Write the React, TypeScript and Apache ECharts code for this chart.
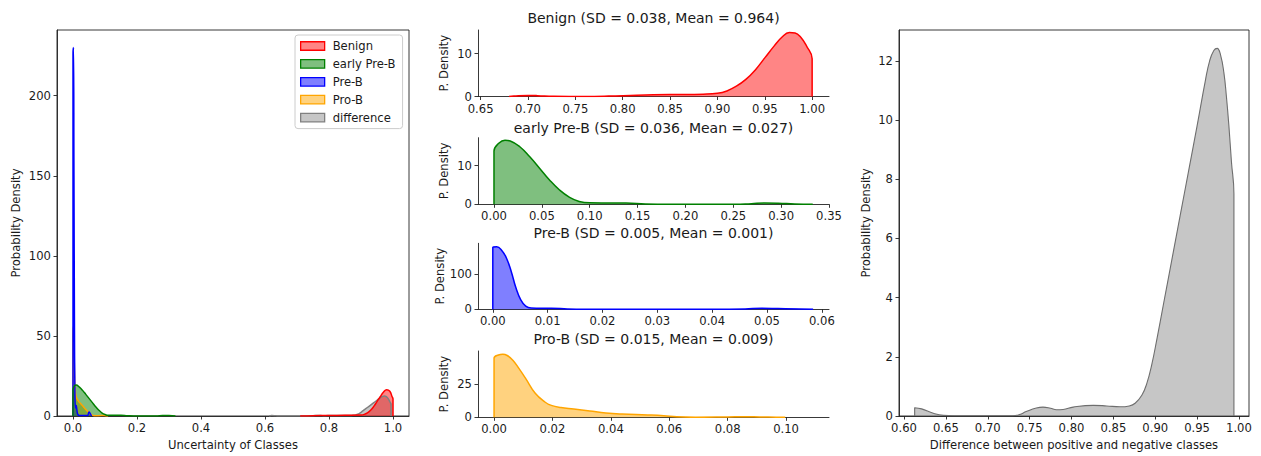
import React, { useEffect, useRef } from "react";
import * as echarts from "echarts";

const FONT = '"DejaVu Sans", "Liberation Sans", sans-serif';
const INK = "#1a1a1a";

// ---------- data (x, density) ----------
// Left panel overlay
const leftBenign: number[][] = [
  [0.71, 0], [0.71, 0.3], [0.75, 0.2], [0.8, 0.3], [0.85, 0.45], [0.9, 0.6], [0.91, 1.0],
  [0.92, 2.0], [0.93, 3.6], [0.94, 6.0], [0.95, 9.0], [0.96, 12.0], [0.97, 14.8],
  [0.98, 16.4], [0.99, 15.5], [0.997, 12.2], [1.0, 10.6], [1.0, 0],
];
const leftEarlyPreB: number[][] = [
  [0, 0], [0, 16], [0.005, 19], [0.01, 19.4], [0.02, 18], [0.03, 16], [0.04, 13.5],
  [0.05, 11], [0.06, 8.5], [0.07, 6], [0.08, 3.8], [0.09, 2], [0.1, 0.9], [0.11, 0.4],
  [0.13, 0.4], [0.15, 0.5], [0.17, 0.2], [0.2, 0], [0.26, 0], [0.28, 0.3], [0.3, 0.3], [0.32, 0],
];
const leftPreB: number[][] = [
  [0, 0], [0, 226], [0.0015, 230], [0.003, 150], [0.0045, 60], [0.006, 15], [0.008, 5],
  [0.01, 6.5], [0.012, 4], [0.015, 1], [0.02, 0.3], [0.045, 0.3], [0.05, 2.5], [0.054, 1.5], [0.058, 0],
];
const leftProB: number[][] = [
  [0, 0], [0, 50], [0.0015, 56], [0.003, 45], [0.005, 25], [0.008, 14], [0.012, 11],
  [0.018, 9], [0.025, 7.5], [0.032, 6], [0.04, 4], [0.048, 2.5], [0.055, 1.2], [0.062, 0.4],
  [0.07, 0.1], [0.09, 0.3], [0.1, 0.2], [0.11, 0],
];

// Middle panels
const benignDensity: number[][] = [
  [0.68, 0], [0.685, 0.1], [0.7, 0.25], [0.71, 0.2], [0.727, 0.03], [0.76, 0.02], [0.785, 0.1],
  [0.815, 0.3], [0.85, 0.45], [0.885, 0.55], [0.9, 0.75], [0.91, 1.3], [0.92, 2.4],
  [0.93, 4.0], [0.94, 6.2], [0.95, 9.0], [0.96, 11.8], [0.968, 13.8], [0.976, 14.9],
  [0.982, 14.8], [0.988, 13.8], [0.994, 11.8], [1.0, 8.8], [1.0, 0],
];
const earlyPreBDensity: number[][] = [
  [0, 0], [0, 13.8], [0.005, 15.8], [0.0115, 16.6], [0.017, 16.4], [0.027, 14.9],
  [0.0374, 12.3], [0.0478, 9.3], [0.058, 6.3], [0.0685, 3.7], [0.079, 1.8], [0.089, 0.75],
  [0.1, 0.38], [0.117, 0.34], [0.138, 0.32], [0.158, 0.1], [0.183, 0.01], [0.252, 0.01],
  [0.269, 0.17], [0.283, 0.32], [0.297, 0.26], [0.314, 0.09], [0.333, 0],
];
const preBDensity: number[][] = [
  [0, 0], [0, 177], [0.0007, 178.5], [0.0016, 169], [0.0025, 146], [0.0034, 106],
  [0.0042, 62], [0.0051, 27], [0.006, 9], [0.007, 3.5], [0.009, 3], [0.0107, 3], [0.0136, 1],
  [0.0166, 0.2], [0.04, 0.2], [0.046, 1], [0.049, 2.8], [0.052, 2], [0.0584, 0],
];
const proBDensity: number[][] = [
  [0, 0], [0, 44.7], [0.0015, 47.2], [0.003, 47.8], [0.0045, 46.8], [0.0065, 43],
  [0.0085, 37], [0.0108, 29.5], [0.0141, 18.2], [0.0174, 11.6], [0.0196, 9.0], [0.0229, 7.4],
  [0.0273, 6.3], [0.0328, 4.8], [0.0383, 3.3], [0.0438, 2.5], [0.0526, 1.8],
  [0.0581, 1.2], [0.0626, 0.35], [0.069, 0.02], [0.08, 0.25], [0.0857, 0.45], [0.091, 0.25],
  [0.0967, 0.05], [0.0997, 0],
];

// Right panel (also overlaid on the left panel)
const differenceDensity: number[][] = [
  [0.6127, 0], [0.6127, 0.28], [0.621, 0.24], [0.635, 0.09], [0.647, 0.02], [0.66, 0.01],
  [0.73, 0.01], [0.738, 0.05], [0.746, 0.15], [0.758, 0.27], [0.766, 0.3], [0.775, 0.26],
  [0.782, 0.21], [0.79, 0.22], [0.802, 0.3], [0.826, 0.36], [0.842, 0.34], [0.858, 0.31],
  [0.869, 0.34], [0.876, 0.43], [0.884, 0.7], [0.89, 1.1], [0.896, 1.75], [0.902, 2.6],
  [0.91, 3.8], [0.92, 5.3], [0.93, 6.8], [0.94, 8.3], [0.95, 9.8], [0.96, 11.35],
  [0.965, 12.0], [0.97, 12.35], [0.974, 12.42], [0.978, 12.2], [0.982, 11.6],
  [0.985, 10.8], [0.988, 9.8], [0.991, 8.6], [0.994, 7.5], [0.994, 0],
];

const legendNames = ["Benign", "early Pre-B", "Pre-B", "Pro-B", "difference"];
const panelTitles = [
  "Benign (SD = 0.038, Mean = 0.964)",
  "early Pre-B (SD = 0.036, Mean = 0.027)",
  "Pre-B (SD = 0.005, Mean = 0.001)",
  "Pro-B (SD = 0.015, Mean = 0.009)",
];

// tick labels
const leftXTicks = [0, 0.2, 0.4, 0.6, 0.8, 1.0];
const leftYTicks = [0, 50, 100, 150, 200];
const benignXTicks = [0.65, 0.7, 0.75, 0.8, 0.85, 0.9, 0.95, 1.0];
const benignYTicks = [0, 10];
const earlyXTicks = [0, 0.05, 0.1, 0.15, 0.2, 0.25, 0.3, 0.35];
const earlyYTicks = [0, 10];
const preBXTicks = [0, 0.01, 0.02, 0.03, 0.04, 0.05, 0.06];
const preBYTicks = [0, 100];
const proBXTicks = [0, 0.02, 0.04, 0.06, 0.08, 0.1];
const proBYTicks = [0, 25];
const rightXTicks = [0.6, 0.65, 0.7, 0.75, 0.8, 0.85, 0.9, 0.95, 1.0];
const rightYTicks = [0, 2, 4, 6, 8, 10, 12];

const COLORS = {
  red: { line: "#ff0000", fill: "rgba(255,0,0,0.48)" },
  green: { line: "#008000", fill: "rgba(0,128,0,0.5)" },
  blue: { line: "#0000ff", fill: "rgba(0,0,255,0.5)" },
  orange: { line: "#ffa500", fill: "rgba(255,165,0,0.5)" },
  gray: { line: "#808080", fill: "rgba(128,128,128,0.45)" },
};

export default function App() {
  const ref = useRef<HTMLDivElement>(null);

  useEffect(() => {
    document.body.style.margin = "0";
    if (!ref.current) return;
    const chart = echarts.init(ref.current, undefined, { renderer: "svg" });

    const tickText = { fontFamily: FONT, fontSize: 11.6, color: INK };
    const axisLineStyle = { color: "#222", width: 0.9 };

    const grids = [
      { left: 57, top: 30, width: 352, height: 388, show: true, borderColor: "#222", borderWidth: 0.9 },
      { left: 478, top: 30, width: 351, height: 66.5 },
      { left: 478, top: 137.7, width: 351, height: 66.6 },
      { left: 478, top: 243.3, width: 351, height: 66 },
      { left: 478, top: 351, width: 351, height: 66.3 },
      { left: 899, top: 30, width: 350, height: 388, show: true, borderColor: "#222", borderWidth: 0.9 },
    ];

    const xDefs = [
      { min: -0.05, max: 1.05, ticks: leftXTicks, dec: 1, name: "Uncertainty of Classes" },
      { min: 0.6472, max: 1.0178, ticks: benignXTicks, dec: 2, name: "" },
      { min: -0.0167, max: 0.35, ticks: earlyXTicks, dec: 2, name: "" },
      { min: -0.0027, max: 0.0613, ticks: preBXTicks, dec: 2, name: "" },
      { min: -0.0055, max: 0.1147, ticks: proBXTicks, dec: 2, name: "" },
      { min: 0.594, max: 1.012, ticks: rightXTicks, dec: 2, name: "Difference between positive and negative classes" },
    ];
    const yDefs = [
      { max: 241, ticks: leftYTicks, name: "Probability Density", gap: 35 },
      { max: 15.5, ticks: benignYTicks, name: "P. Density", gap: 28 },
      { max: 17.25, ticks: earlyYTicks, name: "P. Density", gap: 28 },
      { max: 188.6, ticks: preBYTicks, name: "P. Density", gap: 28 },
      { max: 50.2, ticks: proBYTicks, name: "P. Density", gap: 28 },
      { max: 13.04, ticks: rightYTicks, name: "Probability Density", gap: 27 },
    ];

    const xAxis = xDefs.map((d, i) => ({
      type: "value",
      gridIndex: i,
      min: d.min,
      max: d.max,
      name: d.name,
      nameLocation: "middle",
      nameGap: 23,
      nameTextStyle: { ...tickText },
      splitLine: { show: false },
      axisLine: { show: true, onZero: false, lineStyle: axisLineStyle },
      axisTick: { show: true, length: 3.5, customValues: d.ticks, lineStyle: axisLineStyle },
      axisLabel: {
        ...tickText,
        margin: 6,
        customValues: d.ticks,
        formatter: (v: number) => v.toFixed(d.dec),
      },
    }));

    const yAxis = yDefs.map((d, i) => ({
      type: "value",
      gridIndex: i,
      min: 0,
      max: d.max,
      name: d.name,
      nameLocation: "middle",
      nameGap: d.gap,
      nameTextStyle: { ...tickText },
      splitLine: { show: false },
      axisLine: { show: true, onZero: false, lineStyle: axisLineStyle },
      axisTick: { show: true, length: 3.5, customValues: d.ticks, lineStyle: axisLineStyle },
      axisLabel: { ...tickText, margin: 6, customValues: d.ticks, formatter: (v: number) => String(v) },
    }));

    const kde = (name: string, data: number[][], c: { line: string; fill: string }, idx: number, lw = 1.5) => ({
      type: "line",
      name,
      xAxisIndex: idx,
      yAxisIndex: idx,
      data,
      symbol: "none",
      showSymbol: false,
      smooth: 0.45,
      clip: true,
      lineStyle: { color: c.line, width: lw, join: "round" },
      itemStyle: { color: c.line },
      areaStyle: { color: c.fill, opacity: 1 },
    });

    const series = [
      // left overlay (drawn in reverse hue order)
      kde("difference", differenceDensity, COLORS.gray, 0, 1.5),
      kde("Pro-B", leftProB, COLORS.orange, 0),
      kde("Pre-B", leftPreB, COLORS.blue, 0),
      kde("early Pre-B", leftEarlyPreB, COLORS.green, 0),
      kde("Benign", leftBenign, COLORS.red, 0),
      // middle
      kde("Benign KDE", benignDensity, COLORS.red, 1),
      kde("early Pre-B KDE", earlyPreBDensity, COLORS.green, 2),
      kde("Pre-B KDE", preBDensity, COLORS.blue, 3),
      kde("Pro-B KDE", proBDensity, COLORS.orange, 4),
      // right
      kde("difference KDE", differenceDensity, { line: "#6e6e6e", fill: "rgba(128,128,128,0.45)" }, 5, 1.1),
    ];

    const legendStyles: Record<string, { line: string; fill: string }> = {
      Benign: COLORS.red,
      "early Pre-B": COLORS.green,
      "Pre-B": COLORS.blue,
      "Pro-B": COLORS.orange,
      difference: COLORS.gray,
    };

    const titleTops = [11, 121, 226, 332];

    chart.setOption({
      animation: false,
      backgroundColor: "#ffffff",
      textStyle: { fontFamily: FONT },
      title: panelTitles.map((t, i) => ({
        text: t,
        left: 653.5,
        top: titleTops[i],
        textAlign: "center",
        padding: 0,
        textStyle: { fontFamily: FONT, fontSize: 14, fontWeight: "normal", color: INK },
      })),
      legend: {
        orient: "vertical",
        left: 295,
        top: 35,
        padding: [5, 7, 5, 5],
        itemWidth: 24,
        itemHeight: 8.5,
        itemGap: 5.9,
        icon: "rect",
        backgroundColor: "rgba(255,255,255,0.8)",
        borderColor: "#cccccc",
        borderWidth: 1,
        borderRadius: 3,
        selectedMode: false,
        textStyle: { fontFamily: FONT, fontSize: 11.6, color: INK, padding: [0, 0, 0, 3] },
        data: legendNames.map((n) => ({
          name: n,
          icon: "rect",
          itemStyle: { color: legendStyles[n].fill, borderColor: legendStyles[n].line, borderWidth: 1.3 },
        })),
      },
      grid: grids,
      xAxis,
      yAxis,
      series,
    });

    return () => chart.dispose();
  }, []);

  return <div ref={ref} style={{ width: 1261, height: 456 }} />;
}
